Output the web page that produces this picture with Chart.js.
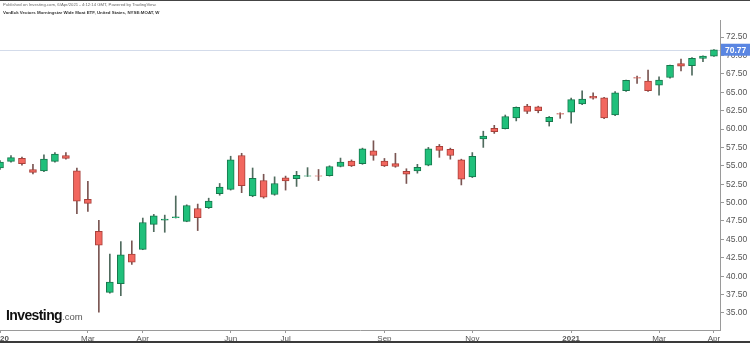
<!DOCTYPE html>
<html>
<head>
<meta charset="utf-8">
<script src="https://cdn.jsdelivr.net/npm/chart.js@4"></script>
<style>
  body { margin: 0; background: #fff; }
  #wrap { position: relative; width: 750px; height: 343px; overflow: hidden; font-family: "Liberation Sans", Arial, sans-serif; }
  #wrap canvas { position: absolute; left: 0; top: 0; }
  .pub { position: absolute; left: 3px; top: 2px; font-size: 4.25px; color: #666; white-space: nowrap; }
  .ttl { position: absolute; left: 3px; top: 10px; font-size: 4.4px; font-weight: bold; color: #333; white-space: nowrap; }
  .logo { position: absolute; left: 6px; top: 306px; white-space: nowrap; color: #111; }
  .logo b { font-size: 14px; letter-spacing: -0.6px; }
  .logo span { font-size: 9.5px; color: #555; }
  .topband { position: absolute; left: 0; top: 0; width: 750px; height: 1px; background: #444; }
  .botband { position: absolute; left: 0; top: 341px; width: 750px; height: 2px; background: #3a3a3a; }
</style>
</head>
<body>
<div id="wrap">
  <canvas id="chart" width="750" height="343"></canvas>
  <div class="topband"></div>
  <div class="pub">Published on Investing.com, 6/Apr/2021 - 4:12:14 GMT, Powered by TradingView.</div>
  <div class="ttl">VanEck Vectors Morningstar Wide Moat ETF, United States, NYSE:MOAT, W</div>
  <div class="logo"><b>Investing</b><span>.com</span></div>
  <div class="botband"></div>
</div>
<script>
// velas semanales (jan 2020 - apr 2021)
const opens = [54.7, 55.6, 56.0, 54.5, 54.3, 55.6, 56.4, 54.3, 50.45, 46.1,
  37.8, 39.0, 43.0, 43.65, 47.05, 47.6, 47.95, 47.45, 49.2, 49.3,
  51.2, 51.8, 56.4, 50.9, 53.0, 51.1, 53.35, 53.25, 53.6, 53.65,
  53.65, 54.9, 55.65, 55.3, 57.05, 55.65, 55.3, 54.25, 54.3, 55.1,
  57.65, 57.25, 55.8, 53.5, 58.65, 60.1, 60.05, 61.5, 63.1, 63.0,
  61.0, 62.1, 62.3, 63.4, 64.45, 64.25, 61.9, 65.2, 67.0, 66.5,
  65.95, 67.0, 68.9, 68.6, 69.6, 69.9];
const highs = [55.7, 56.4, 56.2, 55.2, 56.5, 56.8, 56.8, 54.7, 52.9, 47.6,
  43.0, 44.7, 44.8, 47.9, 48.4, 48.3, 50.9, 49.7, 49.8, 50.6,
  52.6, 56.3, 56.7, 54.7, 53.85, 53.5, 53.6, 54.25, 54.75, 54.5,
  55.0, 56.05, 55.8, 57.4, 58.4, 56.0, 56.7, 54.6, 55.2, 57.5,
  57.9, 57.4, 55.9, 56.8, 59.7, 60.5, 61.9, 63.0, 63.35, 63.1,
  61.7, 62.2, 64.2, 65.2, 64.9, 64.3, 65.1, 66.65, 67.2, 68.0,
  67.1, 68.7, 69.5, 69.7, 69.95, 70.8];
const lows = [54.5, 55.5, 55.1, 53.9, 54.2, 55.5, 55.9, 48.5, 48.8, 35.1,
  37.7, 37.35, 41.6, 43.6, 46.05, 45.97, 47.9, 47.4, 46.2, 49.2,
  51.0, 51.7, 51.35, 50.8, 50.6, 51.0, 51.7, 52.2, 53.55, 53.0,
  53.6, 54.85, 54.9, 55.2, 55.75, 54.9, 54.8, 52.6, 54.0, 55.0,
  56.15, 55.9, 52.4, 53.4, 57.5, 59.4, 60.0, 61.1, 62.1, 62.2,
  60.4, 61.45, 60.8, 63.3, 64.05, 61.4, 61.8, 65.1, 66.2, 65.1,
  64.6, 66.9, 67.9, 67.3, 69.15, 69.85];
const closes = [55.5, 56.1, 55.3, 54.1, 55.9, 56.6, 56.0, 50.2, 49.9, 44.2,
  39.2, 42.9, 41.9, 47.3, 48.2, 47.75, 48.05, 49.6, 47.95, 50.2,
  52.1, 55.8, 52.3, 53.3, 50.75, 52.6, 52.95, 53.7, 53.65, 53.6,
  54.9, 55.5, 55.0, 57.3, 56.4, 55.0, 54.9, 53.85, 54.8, 57.3,
  57.1, 56.4, 53.2, 56.3, 59.05, 59.65, 61.7, 62.95, 62.4, 62.5,
  61.6, 62.0, 64.0, 64.05, 64.2, 61.5, 64.9, 66.6, 66.9, 65.2,
  66.65, 68.65, 68.55, 69.6, 69.9, 70.77];

// etiquetas del eje x (indice de la vela donde empieza el mes)
const xTickIdx = [0, 8, 13, 21, 26, 35, 43, 52, 60, 65];
const xTickText = ["2020", "Mar", "Apr", "Jun", "Jul", "Sep", "Nov", "2021", "Mar", "Apr"];
const yTicks = [35, 37.5, 40, 42.5, 45, 47.5, 50, 52.5, 55, 57.5, 60, 62.5, 65, 67.5, 70, 72.5];
const lastPrice = 70.77;

const UP = "#20c07b", UP_BORDER = "#16784c";
const DOWN = "#f2675f", DOWN_BORDER = "#a9403a";

const esAlza = i => closes[i] >= opens[i];

const cuerpos = opens.map((o, i) => ({ x: i, y: [o, closes[i]] }));
const mechas = highs.map((h, i) => ({ x: i, y: [lows[i], h] }));

/** Linea del ultimo precio y su etiqueta sobre el eje. */
const lineaPrecio = {
  id: "lineaPrecio",
  beforeDatasetsDraw(chart) {
    const { ctx, chartArea } = chart;
    const y = Math.round(chart.scales.y.getPixelForValue(lastPrice)) + 0.5;
    ctx.save();
    ctx.strokeStyle = "#d3dbea";
    ctx.lineWidth = 1;
    ctx.beginPath();
    ctx.moveTo(chartArea.left, y);
    ctx.lineTo(chartArea.right, y);
    ctx.stroke();
    ctx.restore();
  },
  afterDraw(chart) {
    const { ctx, chartArea } = chart;
    const y = chart.scales.y.getPixelForValue(lastPrice);
    ctx.save();
    ctx.fillStyle = "#5a86e2";
    ctx.fillRect(chartArea.right + 1, y - 6, 29, 12);
    ctx.fillStyle = "#fff";
    ctx.font = "bold 8.5px 'Liberation Sans', Arial, sans-serif";
    ctx.textBaseline = "middle";
    ctx.fillText(lastPrice.toFixed(2), chartArea.right + 5, y + 0.5);
    ctx.restore();
  },
};

new Chart(document.getElementById("chart"), {
  type: "bar",
  data: {
    datasets: [
      {
        data: cuerpos,
        order: 0,
        grouped: false,
        barThickness: 7,
        borderWidth: 1,
        borderSkipped: false,
        backgroundColor: ctx => (esAlza(ctx.dataIndex) ? UP : DOWN),
        borderColor: ctx => (esAlza(ctx.dataIndex) ? UP_BORDER : DOWN_BORDER),
      },
      {
        data: mechas,
        order: 1,
        grouped: false,
        barThickness: 1,
        borderWidth: 0,
        backgroundColor: ctx => (esAlza(ctx.dataIndex) ? "#4f6b5e" : "#7a5552"),
      },
    ],
  },
  plugins: [lineaPrecio],
  options: {
    responsive: false,
    animation: false,
    devicePixelRatio: 1,
    layout: { padding: { top: 20, left: 0, right: 0, bottom: 0 } },
    plugins: { legend: { display: false }, tooltip: { enabled: false } },
    scales: {
      x: {
        type: "linear",
        min: 0,
        max: 65.55,
        offset: false,
        grid: { offset: false, drawOnChartArea: false, drawTicks: true, tickLength: 3, color: "#999" },
        border: { display: true, color: "#9a9a9a" },
        afterBuildTicks: s => { s.ticks = xTickIdx.map(v => ({ value: v })); },
        afterFit: s => { s.height = 13; s.paddingLeft = 0; s.paddingRight = 0; },
        ticks: {
          autoSkip: false,
          maxRotation: 0,
          padding: 1,
          color: "#555",
          font: ctx => {
            const t = xTickText[xTickIdx.indexOf(ctx.tick && ctx.tick.value)] || "";
            return { size: 8, family: "'Liberation Sans', Arial, sans-serif", weight: /^\d{4}$/.test(t) ? "bold" : "normal" };
          },
          callback: v => xTickText[xTickIdx.indexOf(v)] || "",
        },
      },
      y: {
        position: "right",
        min: 32.69,
        max: 74.81,
        grid: { drawOnChartArea: false, drawTicks: true, tickLength: 4, color: "#999" },
        border: { display: true, color: "#9a9a9a" },
        afterBuildTicks: s => { s.ticks = yTicks.map(v => ({ value: v })); },
        afterFit: s => { s.width = 30; s.paddingTop = 0; s.paddingBottom = 0; },
        ticks: {
          padding: 2,
          color: "#555",
          font: { size: 8.5, family: "'Liberation Sans', Arial, sans-serif" },
          callback: v => Number(v).toFixed(2),
        },
      },
    },
  },
});
</script>
</body>
</html>
